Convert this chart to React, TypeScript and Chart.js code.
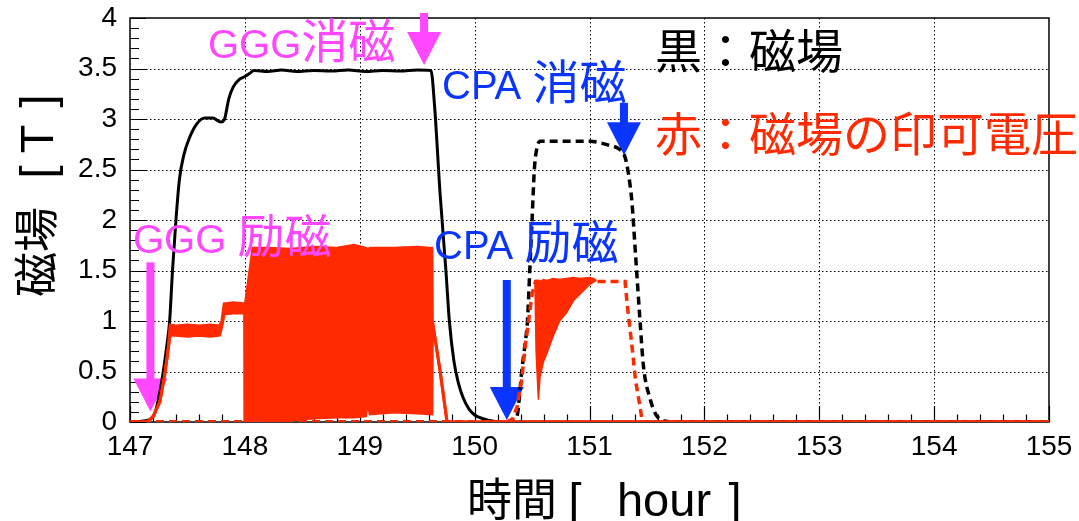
import React, { useEffect, useRef } from 'react';
import { Chart, registerables } from 'chart.js';

Chart.register(...registerables);

const LATIN = "'Liberation Sans', Arial, Helvetica, sans-serif";
const CJK_FONT = "'Noto Sans CJK JP', 'Noto Sans CJK SC', sans-serif";

const RED = '#ff2a00';
const BLACK = '#000000';
const MAGENTA = '#ff47ff';
const BLUE = '#0a35ff';

// Axis ranges and tick labels
const hourMin = 147;
const hourMax = 155;
const teslaMin = 0;
const teslaMax = 4;
const xTickValues = [147, 148, 149, 150, 151, 152, 153, 154, 155];
const xTickLabels = ['147', '148', '149', '150', '151', '152', '153', '154', '155'];
const yTickValues = [0, 0.5, 1, 1.5, 2, 2.5, 3, 3.5, 4];
const yTickLabels = ['0', '0.5', '1', '1.5', '2', '2.5', '3', '3.5', '4'];

// GGG magnet: field (black, solid)
const gggFieldHours = [147.0, 147.12, 147.18, 147.22, 147.26, 147.29, 147.32, 147.345, 147.37, 147.4, 147.43, 147.47, 147.52, 147.58, 147.65, 147.72, 147.79, 147.82, 147.86, 147.9, 147.95, 148.0, 148.04, 148.08, 148.2, 148.32, 148.45, 148.6, 148.75, 148.9, 149.05, 149.2, 149.35, 149.5, 149.62, 149.65, 149.7, 149.75, 149.78, 149.82, 149.86, 149.9, 149.95, 150.0, 150.08, 150.18, 150.25, 155.0];
const gggFieldTesla = [0, 0.01, 0.03, 0.1, 0.3, 0.5, 0.75, 1.0, 1.5, 2.0, 2.4, 2.65, 2.82, 2.95, 3.01, 3.01, 2.97, 2.99, 3.2, 3.32, 3.39, 3.42, 3.45, 3.48, 3.47, 3.485, 3.47, 3.48, 3.475, 3.485, 3.47, 3.48, 3.475, 3.485, 3.48, 3.15, 2.25, 1.5, 1.0, 0.6, 0.38, 0.24, 0.13, 0.07, 0.03, 0.005, 0, 0];

// GGG magnet: applied voltage (red), upper and lower envelope of the ripple
const gggVoltHours = [147.0, 147.15, 147.2, 147.26, 147.3, 147.33, 147.35, 147.4, 147.5, 147.6, 147.7, 147.78, 147.8, 147.82, 147.9, 147.998, 148.0, 148.07, 148.2, 148.4, 148.6, 148.8, 148.95, 149.05, 149.07, 149.09, 149.3, 149.5, 149.628, 149.632, 149.7, 149.76, 155.0];
const gggVoltUpper = [0, 0, 0.05, 0.2, 0.45, 0.7, 0.96, 0.95, 0.96, 0.95, 0.96, 0.95, 1.0, 1.17, 1.18, 1.17, 1.13, 1.72, 1.72, 1.71, 1.73, 1.72, 1.75, 1.72, 1.71, 1.72, 1.72, 1.73, 1.72, 1.0, 0.5, 0, 0];
const gggVoltLower = [0, 0, 0.05, 0.2, 0.45, 0.7, 0.86, 0.86, 0.85, 0.86, 0.85, 0.86, 0.95, 1.07, 1.08, 1.08, 0, 0, 0.01, 0.02, 0.04, 0.05, 0.05, 0.06, 0.22, 0.08, 0.1, 0.09, 0.08, 1.0, 0.5, 0, 0];

// CPA magnet: field (black, dashed)
const cpaFieldHours = [147.0, 150.3, 150.34, 150.37, 150.39, 150.41, 150.44, 150.46, 150.48, 150.5, 150.52, 150.54, 150.57, 150.8, 151.0, 151.17, 151.26, 151.31, 151.34, 151.37, 151.4, 151.44, 151.47, 151.53, 151.58, 151.65, 151.75, 155.0];
const cpaFieldTesla = [0, 0, 0.02, 0.06, 0.25, 0.5, 0.78, 1.0, 1.5, 2.0, 2.5, 2.7, 2.78, 2.78, 2.78, 2.74, 2.7, 2.62, 2.45, 2.17, 1.67, 1.0, 0.55, 0.22, 0.07, 0.01, 0, 0];

// CPA magnet: applied voltage (red, dashed)
const cpaVoltHours = [147.0, 150.28, 150.33, 150.37, 150.41, 150.44, 150.47, 150.5, 150.53, 151.31, 151.33, 151.37, 151.4, 151.44, 151.46, 155.0];
const cpaVoltValues = [0, 0, 0.03, 0.15, 0.42, 0.75, 1.0, 1.27, 1.39, 1.39, 1.14, 0.75, 0.42, 0.15, 0, 0];

// CPA magnet: voltage ripple during ramp-up (red band)
const cpaBandHours = [150.525, 150.535, 150.555, 150.57, 150.6, 150.63, 150.68, 150.74, 150.8, 150.86, 150.92, 151.0, 151.04, 151.06];
const cpaBandUpper = [1.39, 1.4, 1.4, 1.39, 1.41, 1.4, 1.42, 1.41, 1.42, 1.43, 1.42, 1.43, 1.42, 1.4];
const cpaBandLower = [1.39, 0.7, 0.22, 0.45, 0.6, 0.68, 0.84, 1.0, 1.08, 1.2, 1.27, 1.36, 1.39, 1.4];

// Event arrows (hour, top and tip in tesla)
const arrowHours = [149.56, 151.3, 147.178, 150.28];
const arrowTop = [4.05, 3.16, 1.58, 1.406];
const arrowTip = [3.535, 2.64, 0.104, 0.02];
const arrowColors = [MAGENTA, BLUE, MAGENTA, BLUE];

// Event labels
const noteTexts = ['GGG消磁', 'GGG 励磁', 'CPA 消磁', 'CPA 励磁', '黒：磁場', '赤：磁場の印可電圧'];
const noteColors = [MAGENTA, MAGENTA, BLUE, BLUE, BLACK, RED];
const noteX = [208, 133, 442, 434, 655, 655];
const noteY = [58, 253, 99, 259, 68, 151];

const zip = (xs: number[], ys: number[]) => xs.map((x, i) => ({ x, y: ys[i] }));

function isCjk(ch: string) {
  return /[\u3000-\u30ff\u3400-\u9fff\uff00-\uffef]/.test(ch);
}

function drawMixed(ctx: CanvasRenderingContext2D, text: string, x: number, y: number, latinPx: number, cjkPx: number, color: string) {
  const runs: { s: string; cjk: boolean }[] = [];
  for (const ch of text) {
    const c = isCjk(ch);
    const last = runs[runs.length - 1];
    if (last && last.cjk === c) last.s += ch;
    else runs.push({ s: ch, cjk: c });
  }
  ctx.fillStyle = color;
  ctx.textAlign = 'left';
  ctx.textBaseline = 'alphabetic';
  let cx = x;
  for (const r of runs) {
    ctx.font = r.cjk ? `${cjkPx}px ${CJK_FONT}` : `${latinPx}px ${LATIN}`;
    ctx.fillText(r.s, cx, y);
    cx += ctx.measureText(r.s).width;
  }
}

function drawArrow(ctx: CanvasRenderingContext2D, x: number, yTop: number, yTip: number, color: string) {
  const shaft = 8;
  const headW = 34;
  const headL = 33;
  ctx.fillStyle = color;
  ctx.fillRect(x - shaft / 2, yTop, shaft, yTip - headL - yTop + 1);
  ctx.beginPath();
  ctx.moveTo(x - headW / 2, yTip - headL);
  ctx.lineTo(x + headW / 2, yTip - headL);
  ctx.lineTo(x, yTip);
  ctx.closePath();
  ctx.fill();
}

const decorPlugin = {
  id: 'decor',
  beforeDatasetsDraw(chart: any) {
    const { ctx, chartArea: a, scales } = chart;
    const xs = scales.x;
    const ys = scales.y;
    ctx.save();

    // dotted grid at major ticks
    ctx.strokeStyle = '#000';
    ctx.lineWidth = 1;
    ctx.setLineDash([1.5, 2.5]);
    ctx.beginPath();
    for (const h of xTickValues) {
      if (h === hourMin || h === hourMax) continue;
      const px = Math.round(xs.getPixelForValue(h)) + 0.5;
      ctx.moveTo(px, a.top);
      ctx.lineTo(px, a.bottom);
    }
    for (const t of yTickValues) {
      if (t === teslaMin || t === teslaMax) continue;
      const py = Math.round(ys.getPixelForValue(t)) + 0.5;
      ctx.moveTo(a.left, py);
      ctx.lineTo(a.right, py);
    }
    ctx.stroke();
    ctx.setLineDash([]);

    // tick marks pointing inwards
    ctx.lineWidth = 1.2;
    ctx.beginPath();
    for (let i = 0; i <= 40; i++) {
      const h = hourMin + i * 0.2;
      const px = Math.round(xs.getPixelForValue(h)) + 0.5;
      const len = i % 5 === 0 ? 16 : 7.5;
      ctx.moveTo(px, a.bottom);
      ctx.lineTo(px, a.bottom - len);
    }
    for (let i = 0; i <= 40; i++) {
      const t = teslaMin + i * 0.1;
      const py = Math.round(ys.getPixelForValue(t)) + 0.5;
      const len = i % 5 === 0 ? 16 : 9;
      ctx.moveTo(a.left, py);
      ctx.lineTo(a.left + len, py);
    }
    ctx.stroke();

    // frame
    ctx.lineWidth = 1.5;
    ctx.strokeRect(a.left, a.top, a.right - a.left, a.bottom - a.top);

    // event arrows
    for (let i = 0; i < arrowHours.length; i++) {
      drawArrow(
        ctx,
        xs.getPixelForValue(arrowHours[i]),
        ys.getPixelForValue(arrowTop[i]),
        ys.getPixelForValue(arrowTip[i]),
        arrowColors[i]
      );
    }
    ctx.restore();
  },
  afterDraw(chart: any) {
    const { ctx } = chart;
    ctx.save();
    for (let i = 0; i < noteTexts.length; i++) {
      drawMixed(ctx, noteTexts[i], noteX[i], noteY[i], 40, 47, noteColors[i]);
    }

    // x axis title
    ctx.fillStyle = BLACK;
    ctx.textAlign = 'center';
    ctx.textBaseline = 'alphabetic';
    ctx.font = `45px ${CJK_FONT}`;
    ctx.fillText('時間', 512, 516);
    ctx.font = `47px ${LATIN}`;
    ctx.fillText('[', 575, 516);
    ctx.fillText('hour', 664, 516);
    ctx.fillText(']', 735, 516);

    // y axis title, rotated
    ctx.translate(53, 0);
    ctx.rotate(-Math.PI / 2);
    ctx.font = `45px ${CJK_FONT}`;
    ctx.fillText('磁場', -252, 0);
    ctx.font = `47px ${LATIN}`;
    ctx.fillText('[', -172, 0);
    ctx.fillText('T', -139, 0);
    ctx.fillText(']', -101, 0);
    ctx.restore();
  },
};

export default function App() {
  const canvasRef = useRef<HTMLCanvasElement | null>(null);

  useEffect(() => {
    const canvas = canvasRef.current;
    if (!canvas) return;

    const chart = new Chart(canvas, {
      type: 'line',
      data: {
        datasets: [
          {
            label: 'GGG voltage (upper)',
            data: zip(gggVoltHours, gggVoltUpper),
            borderColor: RED,
            backgroundColor: RED,
            borderWidth: 3,
            pointRadius: 0,
            tension: 0,
            fill: false,
          },
          {
            label: 'GGG voltage (lower)',
            data: zip(gggVoltHours, gggVoltLower),
            borderColor: RED,
            backgroundColor: RED,
            borderWidth: 3,
            pointRadius: 0,
            tension: 0,
            fill: '-1',
          },
          {
            label: 'CPA ripple (upper)',
            data: zip(cpaBandHours, cpaBandUpper),
            borderColor: RED,
            backgroundColor: RED,
            borderWidth: 1.5,
            pointRadius: 0,
            tension: 0,
            fill: false,
          },
          {
            label: 'CPA ripple (lower)',
            data: zip(cpaBandHours, cpaBandLower),
            borderColor: RED,
            backgroundColor: RED,
            borderWidth: 1.5,
            pointRadius: 0,
            tension: 0,
            fill: '-1',
          },
          {
            label: 'CPA voltage',
            data: zip(cpaVoltHours, cpaVoltValues),
            borderColor: RED,
            borderWidth: 3.5,
            borderDash: [8, 5],
            pointRadius: 0,
            tension: 0,
            fill: false,
          },
          {
            label: 'GGG field',
            data: zip(gggFieldHours, gggFieldTesla),
            borderColor: BLACK,
            borderWidth: 3,
            pointRadius: 0,
            cubicInterpolationMode: 'monotone',
            fill: false,
          },
          {
            label: 'CPA field',
            data: zip(cpaFieldHours, cpaFieldTesla),
            borderColor: BLACK,
            borderWidth: 3.5,
            borderDash: [8, 5],
            pointRadius: 0,
            cubicInterpolationMode: 'monotone',
            fill: false,
          },
        ],
      },
      options: {
        animation: false,
        responsive: true,
        maintainAspectRatio: false,
        events: [],
        layout: { padding: { left: 0, right: 30, top: 18, bottom: 0 } },
        plugins: {
          legend: { display: false },
          tooltip: { enabled: false },
          title: { display: false },
        },
        scales: {
          x: {
            type: 'linear',
            min: hourMin,
            max: hourMax,
            grid: { display: false, drawTicks: false },
            border: { display: false },
            ticks: {
              stepSize: 1,
              autoSkip: false,
              maxRotation: 0,
              padding: 8,
              color: BLACK,
              font: { family: LATIN, size: 28 },
              callback: (v: any) => {
                const i = xTickValues.indexOf(Number(v));
                return i >= 0 ? xTickLabels[i] : '';
              },
            },
            afterFit: (scale: any) => {
              scale.height = 99;
              scale.paddingLeft = 0;
              scale.paddingRight = 0;
              scale.paddingTop = 0;
              scale.paddingBottom = 0;
            },
          },
          y: {
            type: 'linear',
            min: teslaMin,
            max: teslaMax,
            grid: { display: false, drawTicks: false },
            border: { display: false },
            ticks: {
              stepSize: 0.5,
              autoSkip: false,
              padding: 13,
              color: BLACK,
              font: { family: LATIN, size: 28 },
              callback: (v: any) => {
                const i = yTickValues.indexOf(Number(v));
                return i >= 0 ? yTickLabels[i] : '';
              },
            },
            afterFit: (scale: any) => {
              scale.width = 130;
              scale.paddingLeft = 0;
              scale.paddingRight = 0;
              scale.paddingTop = 0;
              scale.paddingBottom = 0;
            },
          },
        },
      },
      plugins: [decorPlugin],
    } as any);

    return () => chart.destroy();
  }, []);

  return (
    <div style={{ position: 'absolute', left: 0, top: 0, width: 1079, height: 521, background: '#fff' }}>
      <canvas ref={canvasRef} />
    </div>
  );
}
